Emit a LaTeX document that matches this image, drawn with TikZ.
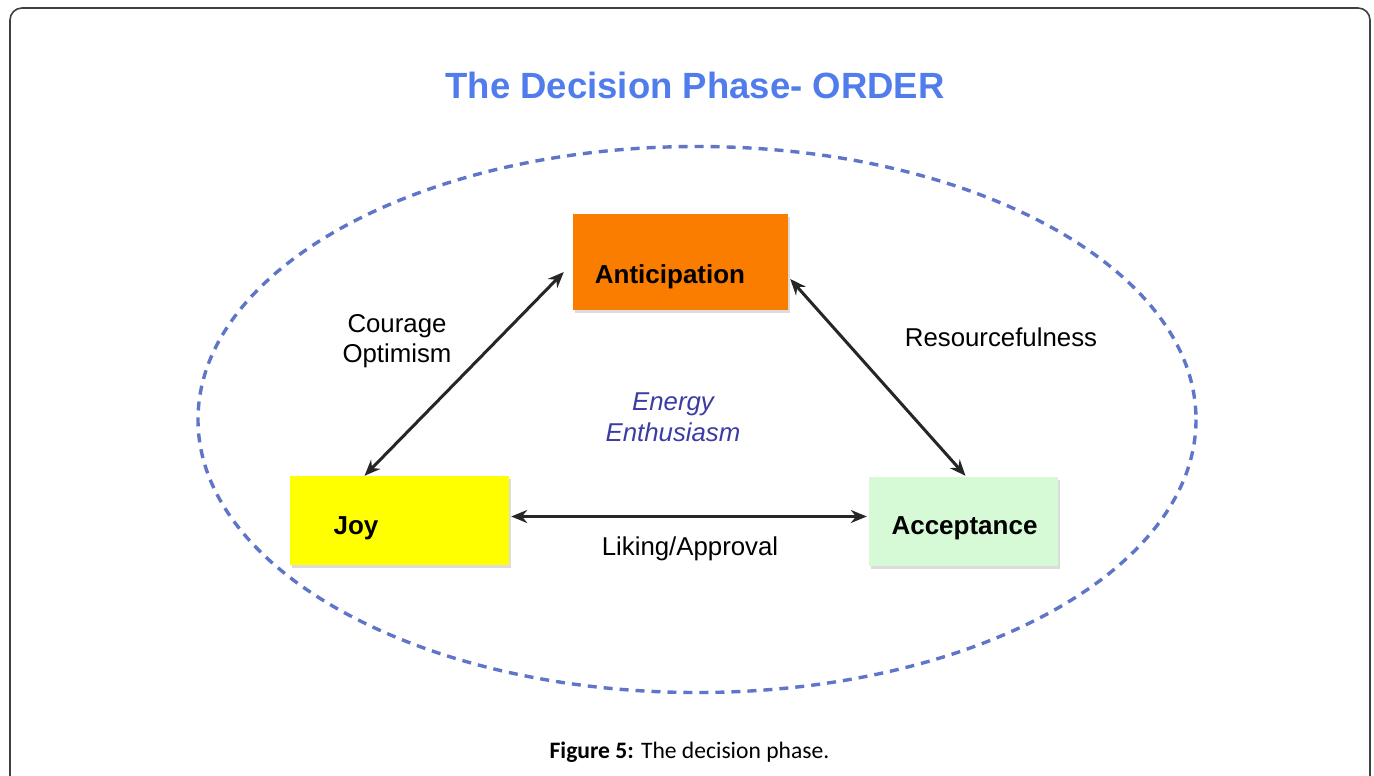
\documentclass[tikz,border=0pt]{standalone}
\usepackage{fontspec}
\setmainfont{Liberation Sans}
\newfontfamily\captionfont{Carlito}
\usetikzlibrary{arrows.meta, shadows}
\usepackage{xcolor}
\definecolor{title_blue}{RGB}{80, 125, 235}
\definecolor{ring_blue}{RGB}{95, 118, 200}
\definecolor{text_indigo}{RGB}{60, 60, 165}
\definecolor{anti_orange}{RGB}{250, 125, 0}
\definecolor{joy_yellow}{RGB}{255, 255, 0}
\definecolor{acc_green}{RGB}{213, 250, 213}

\begin{document}
\begin{tikzpicture}[x=1pt, y=-1pt,
    box/.style={inner sep=0pt, drop shadow={shadow xshift=2pt, shadow yshift=-3pt, fill=black!30, opacity=.45}},
    boxtext/.style={anchor=base, font=\fontsize{26}{30}\selectfont\bfseries},
    lbl/.style={align=center, font=\fontsize{25.8}{30.5}\selectfont},
    link/.style={line width=3pt, draw=black!85, {Stealth[length=16pt,width=13pt]}-{Stealth[length=16pt,width=13pt]}}]

      % 1. Marco y lienzo
      \useasboundingbox (0,0) rectangle (1374,776);
      \clip (0,0) rectangle (1374,776);
      \fill[white] (0,0) rectangle (1374,776);
      \draw[line width=1.6pt, black!75, rounded corners=12pt] (10,8) rectangle (1370,830);

      % Titulo
      \node[anchor=base, text=title_blue, font=\fontsize{36.5}{40}\selectfont\bfseries] (title) at (695,99) {The Decision Phase- ORDER};

      % 2. Elipse punteada
      \draw[line width=3.4pt, ring_blue, dash pattern=on 9pt off 7pt] (697,419.5) ellipse [x radius=499, y radius=273];

      % 3. CAJAS
      \node[box, fill=anti_orange, minimum width=215pt, minimum height=96pt] (anti) at (680.5,262) {};
      \node[box, fill=joy_yellow, minimum width=219pt, minimum height=89pt] (joy) at (399.5,520.5) {};
      \node[box, fill=acc_green, minimum width=189pt, minimum height=89pt] (acc) at (963.5,521.5) {};

      \node[boxtext] (antitext) at (670,283) {Anticipation};
      \node[boxtext] (joytext) at (356,534) {Joy};
      \node[boxtext] (acctext) at (964.5,534) {Acceptance};

      % 4. Flechas dobles
      \draw[link] ([shift={(-35,0)}]joy.north) -- ([shift={(-9,10)}]anti.west);
      \draw[link] ([shift={(2,17)}]anti.east) -- ([shift={(2,-1)}]acc.north);
      \draw[link] ([shift={(2,-4)}]joy.east) -- ([shift={(-2,-5)}]acc.west);

      % 5. Etiquetas
      \node[lbl] (courage) at (397,341) {Courage\\Optimism};
      \node[lbl, anchor=base] (resource) at (1001,346) {Resourcefulness};
      \node[lbl, anchor=base] (liking) at (690,555) {Liking/Approval};
      \node[lbl, text=text_indigo, font=\fontsize{25.8}{30.5}\selectfont\itshape] (energy) at (673,417) {Energy\\Enthusiasm};

      % Pie de figura
      \node[anchor=base, font=\captionfont\fontsize{23.6}{28}\selectfont] (caption) at (689.5,758) {\textbf{Figure 5:} The decision phase.};

    \end{tikzpicture}
\end{document}
